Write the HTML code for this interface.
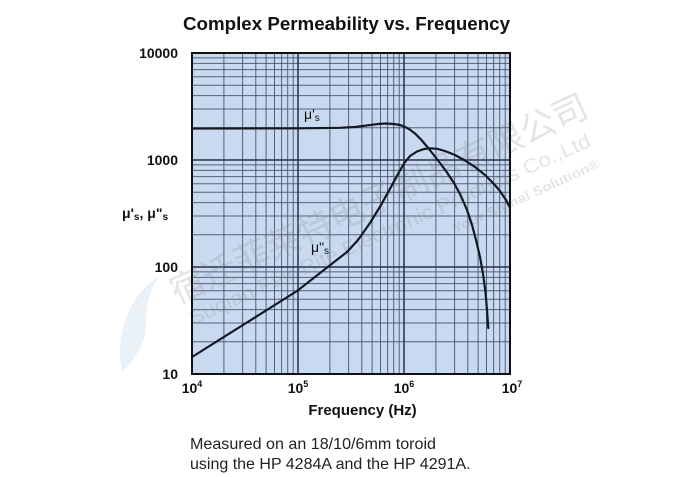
<!DOCTYPE html>
<html>
<head>
<meta charset="utf-8">
<style>
  html, body { margin: 0; padding: 0; background: #ffffff; }
  svg { display: block; }
  text { font-family: "Liberation Sans", "Noto Sans CJK SC", sans-serif; }
</style>
</head>
<body>
<svg width="700" height="477" viewBox="0 0 700 477" xmlns="http://www.w3.org/2000/svg">
  <rect x="0" y="0" width="700" height="477" fill="#ffffff"/>

  <!-- Title -->
  <text x="346.5" y="30" text-anchor="middle" font-size="18.5" font-weight="bold" fill="#111" textLength="327" lengthAdjust="spacingAndGlyphs">Complex Permeability vs. Frequency</text>

  <!-- Plot background -->
  <rect x="192" y="53" width="318" height="321" fill="#c9d9ef"/>

  <!-- Minor vertical grid -->
  <path fill="none" stroke="#3f4d68" stroke-width="1" opacity="0.85" d="
    M223.9,53V374 M242.6,53V374 M255.8,53V374 M266.1,53V374 M274.5,53V374 M281.6,53V374 M287.7,53V374 M293.2,53V374
    M329.9,53V374 M348.6,53V374 M361.8,53V374 M372.1,53V374 M380.5,53V374 M387.6,53V374 M393.7,53V374 M399.2,53V374
    M435.9,53V374 M454.6,53V374 M467.8,53V374 M478.1,53V374 M486.5,53V374 M493.6,53V374 M499.7,53V374 M505.2,53V374"/>
  <!-- Minor horizontal grid -->
  <path fill="none" stroke="#3f4d68" stroke-width="1" opacity="0.85" d="
    M192,341.8H510 M192,323.0H510 M192,309.6H510 M192,299.2H510 M192,290.7H510 M192,283.6H510 M192,277.4H510 M192,271.9H510
    M192,234.8H510 M192,216.0H510 M192,202.6H510 M192,192.2H510 M192,183.7H510 M192,176.6H510 M192,170.4H510 M192,164.9H510
    M192,127.8H510 M192,109.0H510 M192,95.6H510 M192,85.2H510 M192,76.7H510 M192,69.6H510 M192,63.4H510 M192,57.9H510"/>
  <!-- Major grid -->
  <path fill="none" stroke="#25304a" stroke-width="1.5" d="M298,53V374 M404,53V374 M192,267H510 M192,160H510"/>

  <!-- Watermark -->
  <g opacity="0.5">
    <path d="M160,276 C132,292 114,330 122,372 C132,362 146,345 146,325 C146,305 150,288 160,276 Z" fill="#b9d3ea" opacity="0.6"/>
  </g>
  <g fill="#8a8a8a" opacity="0.22">
    <text x="379" y="199.5" text-anchor="middle" dominant-baseline="central" font-size="35" font-family="'Liberation Sans','Noto Sans CJK SC',sans-serif" transform="rotate(-24.6 379 199.5)" textLength="455" lengthAdjust="spacingAndGlyphs">宿迁菲莱特电子制品有限公司</text>
    <text x="390" y="230" text-anchor="middle" dominant-baseline="central" font-size="20" transform="rotate(-24.2 390 230)" textLength="438" lengthAdjust="spacingAndGlyphs">Suqian Fair-Rite Electronic Products Co.,Ltd</text>
    <text x="526" y="196" text-anchor="middle" dominant-baseline="central" font-size="13" font-weight="bold" transform="rotate(-24.5 526 196)" textLength="160" lengthAdjust="spacingAndGlyphs">Your Signal Solution®</text>
  </g>

  <!-- Curves -->
  <polyline fill="none" stroke="#141821" stroke-width="2.2" stroke-linejoin="round" stroke-linecap="round" points="
    192,128.5 300,128.3 340,127.8 355,127 368,125.3 378,124 386,123.5 394,124 400,125 404,126.5 409,129 415,133.5
    421,139.5 427,146.5 433,154 440,163 447,172.5 454,183 461,196 467,210 472,225 476,240 480,257 483,274
    485.5,292 487,310 488.3,328"/>
  <polyline fill="none" stroke="#141821" stroke-width="2.2" stroke-linejoin="round" stroke-linecap="round" points="
    192,357 297,291 347,252 358,240 370,223 381,205 391,187 398,174 404,163.5 410,156 417,151.5 424,149
    430,148.3 437,148.8 445,151 455,155 465,160.5 475,167 485,175 493,183 500,191 506,200 510,207.5"/>

  <!-- Plot border -->
  <rect x="192" y="53" width="318" height="321" fill="none" stroke="#111" stroke-width="2"/>

  <!-- Curve labels -->
  <text x="304" y="119" font-size="14" fill="#111">μ'<tspan font-size="10" dy="2">s</tspan></text>
  <text x="311" y="252" font-size="14" fill="#111">μ"<tspan font-size="10" dy="2">s</tspan></text>

  <!-- Y tick labels -->
  <g font-size="14" font-weight="bold" fill="#111" text-anchor="end">
    <text x="178" y="58">10000</text>
    <text x="178" y="165">1000</text>
    <text x="178" y="272">100</text>
    <text x="178" y="379">10</text>
  </g>

  <!-- Y axis label -->
  <text x="122" y="218" font-size="14" font-weight="bold" fill="#111">μ'<tspan font-size="10" dy="2">s</tspan><tspan dy="-2">, μ"</tspan><tspan font-size="10" dy="2">s</tspan></text>

  <!-- X tick labels -->
  <g font-size="14" font-weight="bold" fill="#111" text-anchor="middle">
    <text x="192" y="393">10<tspan font-size="9" dy="-6">4</tspan></text>
    <text x="298" y="393">10<tspan font-size="9" dy="-6">5</tspan></text>
    <text x="404" y="393">10<tspan font-size="9" dy="-6">6</tspan></text>
    <text x="512" y="393">10<tspan font-size="9" dy="-6">7</tspan></text>
  </g>

  <!-- X axis label -->
  <text x="362.5" y="415" text-anchor="middle" font-size="15" font-weight="bold" fill="#111">Frequency (Hz)</text>

  <!-- Caption -->
  <text x="190" y="449" font-size="16" fill="#222" textLength="246" lengthAdjust="spacingAndGlyphs">Measured on an 18/10/6mm toroid</text>
  <text x="190" y="469" font-size="16" fill="#222">using the HP 4284A and the HP 4291A.</text>
</svg>
</body>
</html>
